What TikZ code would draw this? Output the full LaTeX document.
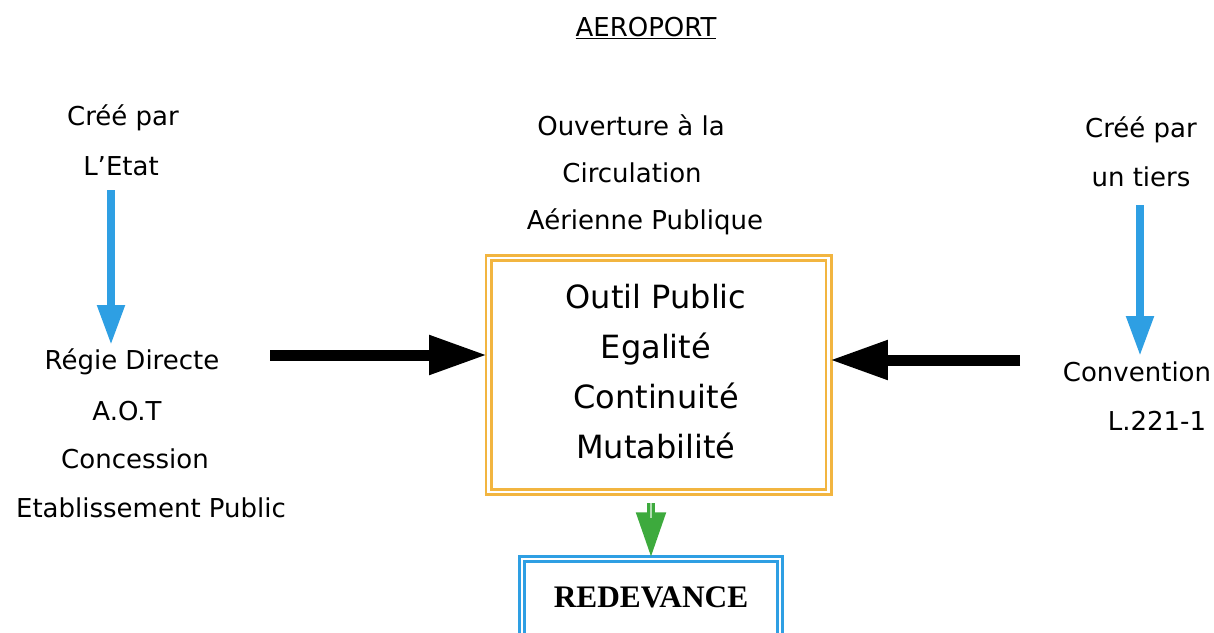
\documentclass[tikz,border=0pt]{standalone}
\usepackage{fontspec}
\setmainfont{DejaVu Sans}
\newfontfamily\serifbold{Liberation Serif}
\usetikzlibrary{arrows.meta}
\definecolor{obord}{HTML}{F2B540}
\definecolor{bblue}{HTML}{2E9FE3}
\definecolor{gshaft}{HTML}{3DAA3D}
\tikzset{
  lbl/.style={inner sep=0pt, font=\fontsize{19.5}{23}\selectfont},
  boxtext/.style={font=\fontsize{24}{37.5}\selectfont},
  obox/.style={draw=obord, double=white, line width=2pt, double distance=2pt, inner sep=0pt, align=center},
  bbox/.style={draw=bblue, double=white, line width=2pt, double distance=2pt, inner sep=0pt},
  bluearrow/.style={draw=bblue, line width=6pt, -{Triangle[width=19.5pt,length=30pt]}},
  blackarrow/.style={draw=black, line width=8.25pt, -{Triangle[width=27.75pt,length=43.5pt]}},
  greenarrow/.style={draw=gshaft, line width=6pt, -{Triangle[width=21pt,length=34pt]}},
}
\begin{document}
\begin{tikzpicture}[x=0.75pt,y=-0.75pt]
\useasboundingbox (0,0) rectangle (1214,632);
\clip (0,0) rectangle (1214,632);
\fill[white] (0,0) rectangle (1214,632);
% title
\node[lbl] (title) at (646,28) {\underline{AEROPORT}};
% left column
\node[lbl] (cree1) at (123,118) {Créé par};
\node[lbl] (etat) at (121,166) {L’Etat};
\node[lbl] (regie) at (132,362) {Régie Directe};
\node[lbl] (aot) at (127,411) {A.O.T};
\node[lbl] (conc) at (135,459) {Concession};
\node[lbl] (etab) at (151,508) {Etablissement Public};
\coordinate (la1) at (111,190);
\coordinate (la2) at (111,345);
\draw[bluearrow] (la1) -- (la2);
% middle texts
\node[lbl] (ouv) at (631,125) {Ouverture à la};
\node[lbl] (circ) at (632,173) {Circulation};
\node[lbl] (aer) at (645,222) {Aérienne Publique};
% central box
\node[obox, minimum width=255pt, minimum height=175.5pt] (box) at (658.5,375) {};
\node[boxtext, align=center, inner sep=0pt] (boxt) at (656,372) {Outil Public\\Egalité\\Continuité\\Mutabilité};
% right column
\node[lbl] (cree2) at (1141,130) {Créé par};
\node[lbl] (tiers) at (1141,177) {un tiers};
\node[lbl] (conv) at (1137,372) {Convention};
\node[lbl] (law) at (1157,421) {L.221-1};
\coordinate (ra1) at (1140,205);
\coordinate (ra2) at (1140,356);
\draw[bluearrow] (ra1) -- (ra2);
% black arrows
\coordinate (lb1) at (270,355);
\draw[blackarrow] (lb1) -- (lb1 -| box.west);
\coordinate (rb1) at (1020,360);
\draw[blackarrow] (rb1) -- (rb1 -| box.east);
% redevance box
\node[bbox, minimum width=193.5pt, minimum height=60pt] (redev) at (651,599) {};
\node[inner sep=0pt, font=\serifbold\bfseries\fontsize{23.5}{27}\selectfont] (redevt) at (651,597) {REDEVANCE};
% green arrow
\coordinate (g1) at ([yshift=-7.5pt]redev.north |- box.south);
\draw[greenarrow] (g1) -- (redev.north);
\draw[white!60!gshaft, line width=1.5pt] (g1) -- ++(0,-11pt);
\end{tikzpicture}
\end{document}
